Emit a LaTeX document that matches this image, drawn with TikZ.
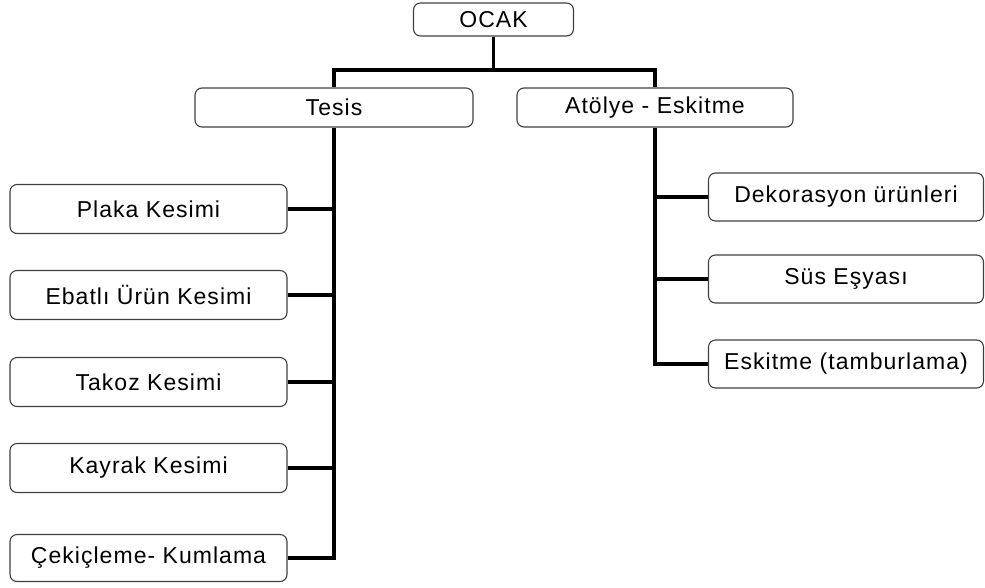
\documentclass[tikz,border=0pt]{standalone}
\usepackage{fontspec}
\setmainfont{Liberation Sans}[LetterSpace=4.5]
\usetikzlibrary{backgrounds}
\begin{document}
\begin{tikzpicture}[x=1pt,y=-1pt,
  box/.style={draw=black!75, line width=1.1pt, rounded corners=7pt, fill=white,
    inner sep=0pt, font=\fontsize{23}{26}\selectfont, text=black},
  conn/.style={line width=3.6pt, black}]
\useasboundingbox (0,0) rectangle (985,587);
\node[box, minimum width=160pt, minimum height=33pt] (ocak) at (493.5,19.5) {OCAK};
\node[box, minimum width=278pt, minimum height=39pt] (tesis) at (334,107.5) {Tesis};
\node[box, minimum width=276pt, minimum height=39pt] (atolye) at (655,107.5) {Atölye - Eskitme};
\node[box, minimum width=277pt, minimum height=49pt] (plaka) at (148.5,209) {Plaka Kesimi};
\node[box, minimum width=277pt, minimum height=49pt] (ebat) at (148.5,295) {Ebatlı Ürün Kesimi};
\node[box, minimum width=277pt, minimum height=49pt] (takoz) at (148.5,382) {Takoz Kesimi};
\node[box, minimum width=277pt, minimum height=49pt] (kayrak) at (148.5,468) {Kayrak Kesimi};
\node[box, minimum width=277pt, minimum height=47pt] (cek) at (148.5,558) {Çekiçleme- Kumlama};
\node[box, minimum width=275pt, minimum height=48pt] (dek) at (846,197) {Dekorasyon ürünleri};
\node[box, minimum width=275pt, minimum height=48pt] (sus) at (846,279) {Süs Eşyası};
\node[box, minimum width=275pt, minimum height=48pt] (esk) at (846,364) {Eskitme (tamburlama)};
\begin{scope}[on background layer]
\coordinate (bar) at (493.5,70);
\coordinate (tl) at (tesis.north |- bar);
\coordinate (al) at (atolye.north |- bar);
\draw[conn] (ocak.south) -- (bar);
\draw[conn] (tesis.north) -- (tl) -- (al) -- (atolye.north);
\draw[conn] (tesis.south) |- (cek.east);
\foreach \n in {plaka,ebat,takoz,kayrak}
  \draw[conn] (\n.east) -- (\n.east -| tesis.south);
\draw[conn] (atolye.south) |- (esk.west);
\foreach \n in {dek,sus}
  \draw[conn] (\n.west) -- (\n.west -| atolye.south);
\end{scope}
\end{tikzpicture}
\end{document}
